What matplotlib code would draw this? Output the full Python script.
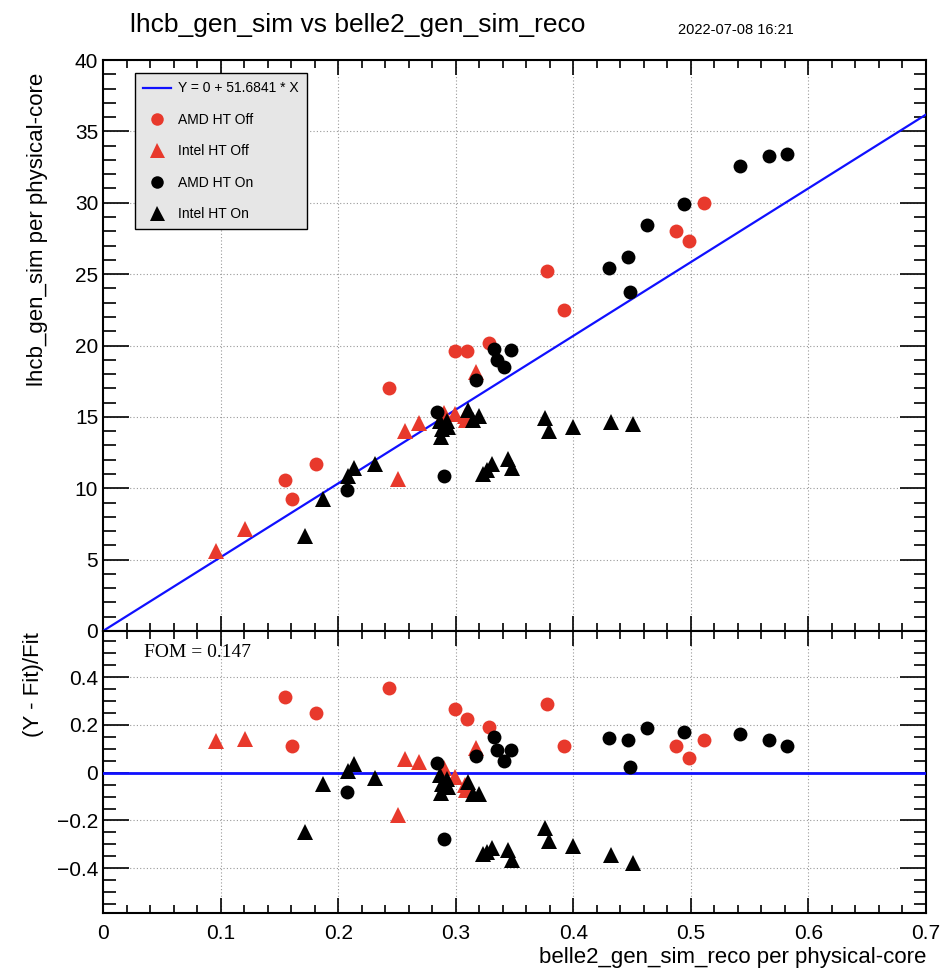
import matplotlib
matplotlib.use('Agg')
import matplotlib.pyplot as plt
from matplotlib.ticker import MultipleLocator, FuncFormatter
from matplotlib.lines import Line2D
import numpy as np

plt.rcParams['font.family'] = ['Liberation Sans', 'DejaVu Sans']

# fit result shown in the legend
slope = 51.6841

# AMD HT Off (red circles)
amd_off_x = [0.155, 0.161, 0.181, 0.243, 0.299, 0.310, 0.328, 0.378, 0.392, 0.487, 0.498, 0.511]
amd_off_y = [10.55, 9.25, 11.7, 17.0, 19.6, 19.6, 20.2, 25.2, 22.5, 28.0, 27.3, 30.0]

# Intel HT Off (red triangles)
intel_off_x = [0.096, 0.1205, 0.2505, 0.257, 0.269, 0.290, 0.2995, 0.308, 0.309, 0.3175]
intel_off_y = [5.63, 7.12, 10.66, 14.03, 14.54, 15.26, 15.22, 15.09, 14.8, 18.13]

# AMD HT On (black circles)
amd_on_x = [0.2075, 0.2843, 0.290, 0.3175, 0.3326, 0.3354, 0.341, 0.3468,
            0.430, 0.4465, 0.4485, 0.4624, 0.4942, 0.542, 0.5665, 0.5815]
amd_on_y = [9.87, 15.31, 10.84, 17.58, 19.73, 18.96, 18.47, 19.66,
            25.42, 26.21, 23.74, 28.41, 29.94, 32.55, 33.26, 33.4]

# Intel HT On (black triangles)
intel_on_x = [0.172, 0.1874, 0.2081, 0.2135, 0.2313, 0.287, 0.2882, 0.2874, 0.2923, 0.2937,
              0.3107, 0.3149, 0.320, 0.3235, 0.3263, 0.3306, 0.3445, 0.3476,
              0.376, 0.3796, 0.400, 0.432, 0.451]
intel_on_y = [6.67, 9.22, 10.83, 11.43, 11.69, 14.68, 14.17, 13.56, 14.72, 14.3,
              15.45, 14.81, 15.05, 11.0, 11.25, 11.68, 12.04, 11.4,
              14.92, 14.0, 14.3, 14.65, 14.52]

fom = 0.147

red = '#e8392c'
blue = '#1010ff'
series = [
    (amd_off_x, amd_off_y, red, 'o', 'AMD HT Off'),
    (intel_off_x, intel_off_y, red, '^', 'Intel HT Off'),
    (amd_on_x, amd_on_y, 'black', 'o', 'AMD HT On'),
    (intel_on_x, intel_on_y, 'black', '^', 'Intel HT On'),
]


def tick_fmt(v, pos):
    return ('%g' % round(v, 6)).replace('-', '\u2212')


W, H = 943, 973
fig = plt.figure(figsize=(W / 100, H / 100), dpi=100)
ax = fig.add_axes([103 / W, 1 - 631 / H, 823 / W, 571 / H])
axr = fig.add_axes([103 / W, 1 - 913 / H, 823 / W, 282 / H], sharex=ax)

msize = {'o': 10, '^': 12}

# 1. top panel: data and fit line
xs = np.array([0, 0.7])
ax.plot(xs, slope * xs, color=blue, lw=1.6, zorder=3)
for x, y, c, m, lab in series:
    ax.plot(x, y, ls='none', marker=m, color=c, ms=msize[m], mew=0, zorder=4)

# 2. bottom panel: relative residuals
axr.axhline(0, color=blue, lw=2, zorder=3)
for x, y, c, m, lab in series:
    x = np.array(x)
    res = (np.array(y) - slope * x) / (slope * x)
    axr.plot(x, res, ls='none', marker=m, color=c, ms=msize[m], mew=0, zorder=4)

ax.set_xlim(0, 0.7)
ax.set_ylim(0, 40)
axr.set_ylim(-0.588, 0.594)

for a in (ax, axr):
    a.xaxis.set_major_locator(MultipleLocator(0.1))
    a.xaxis.set_minor_locator(MultipleLocator(0.02))
    a.xaxis.set_major_formatter(FuncFormatter(tick_fmt))
    a.yaxis.set_major_formatter(FuncFormatter(tick_fmt))
    a.grid(True, which='major', ls=(0, (1, 2)), color='#999999', lw=0.8)
    a.tick_params(which='both', direction='in', top=True, right=True, labelsize=15, width=1.2)
    a.tick_params(axis='x', which='major', length=11)
    a.tick_params(axis='x', which='minor', length=6)
    a.tick_params(axis='y', which='major', length=19)
    a.tick_params(axis='y', which='minor', length=9)
    for s in a.spines.values():
        s.set_linewidth(1.5)
ax.yaxis.set_major_locator(MultipleLocator(5))
ax.yaxis.set_minor_locator(MultipleLocator(1))
axr.yaxis.set_major_locator(MultipleLocator(0.2))
axr.yaxis.set_minor_locator(MultipleLocator(0.05))
ax.tick_params(axis='x', labelbottom=False)
axr.tick_params(axis='x', pad=8)

# legend
handles = [Line2D([], [], color=blue, lw=1.6)]
labels = ['Y = 0 + %g * X' % slope]
for x, y, c, m, lab in series:
    handles.append(Line2D([], [], ls='none', marker=m, color=c, ms=msize[m] * 0.9, mew=0))
    labels.append(lab)
leg = ax.legend(handles, labels, loc='upper left', bbox_to_anchor=(0.039, 0.977),
                fontsize=10, facecolor='#e6e6e6', edgecolor='black', fancybox=False,
                framealpha=1, borderpad=0.6, labelspacing=1.25, handlelength=2.0,
                handletextpad=0.5, borderaxespad=0)
leg.get_frame().set_linewidth(1.0)

axr.text(0.05, 0.955, 'FOM = %g' % fom, transform=axr.transAxes, fontsize=14,
         family='Liberation Serif', va='top', ha='left')

fig.text(130 / W, 1 - 25 / H, 'lhcb_gen_sim vs belle2_gen_sim_reco', fontsize=19,
         ha='left', va='center')
fig.text(678 / W, 1 - 30 / H, '2022-07-08 16:21', fontsize=10.5, ha='left', va='center')
fig.text(38 / W, 1 - 73 / H, 'lhcb_gen_sim per physical-core', rotation=90,
         fontsize=16, ha='center', va='top')
fig.text(34 / W, 1 - 632 / H, '(Y - Fit)/Fit', rotation=90,
         fontsize=16, ha='center', va='top')
fig.text(926 / W, 1 - 957 / H, 'belle2_gen_sim_reco per physical-core',
         fontsize=16, ha='right', va='center')

fig.savefig('out.png', dpi=100)
